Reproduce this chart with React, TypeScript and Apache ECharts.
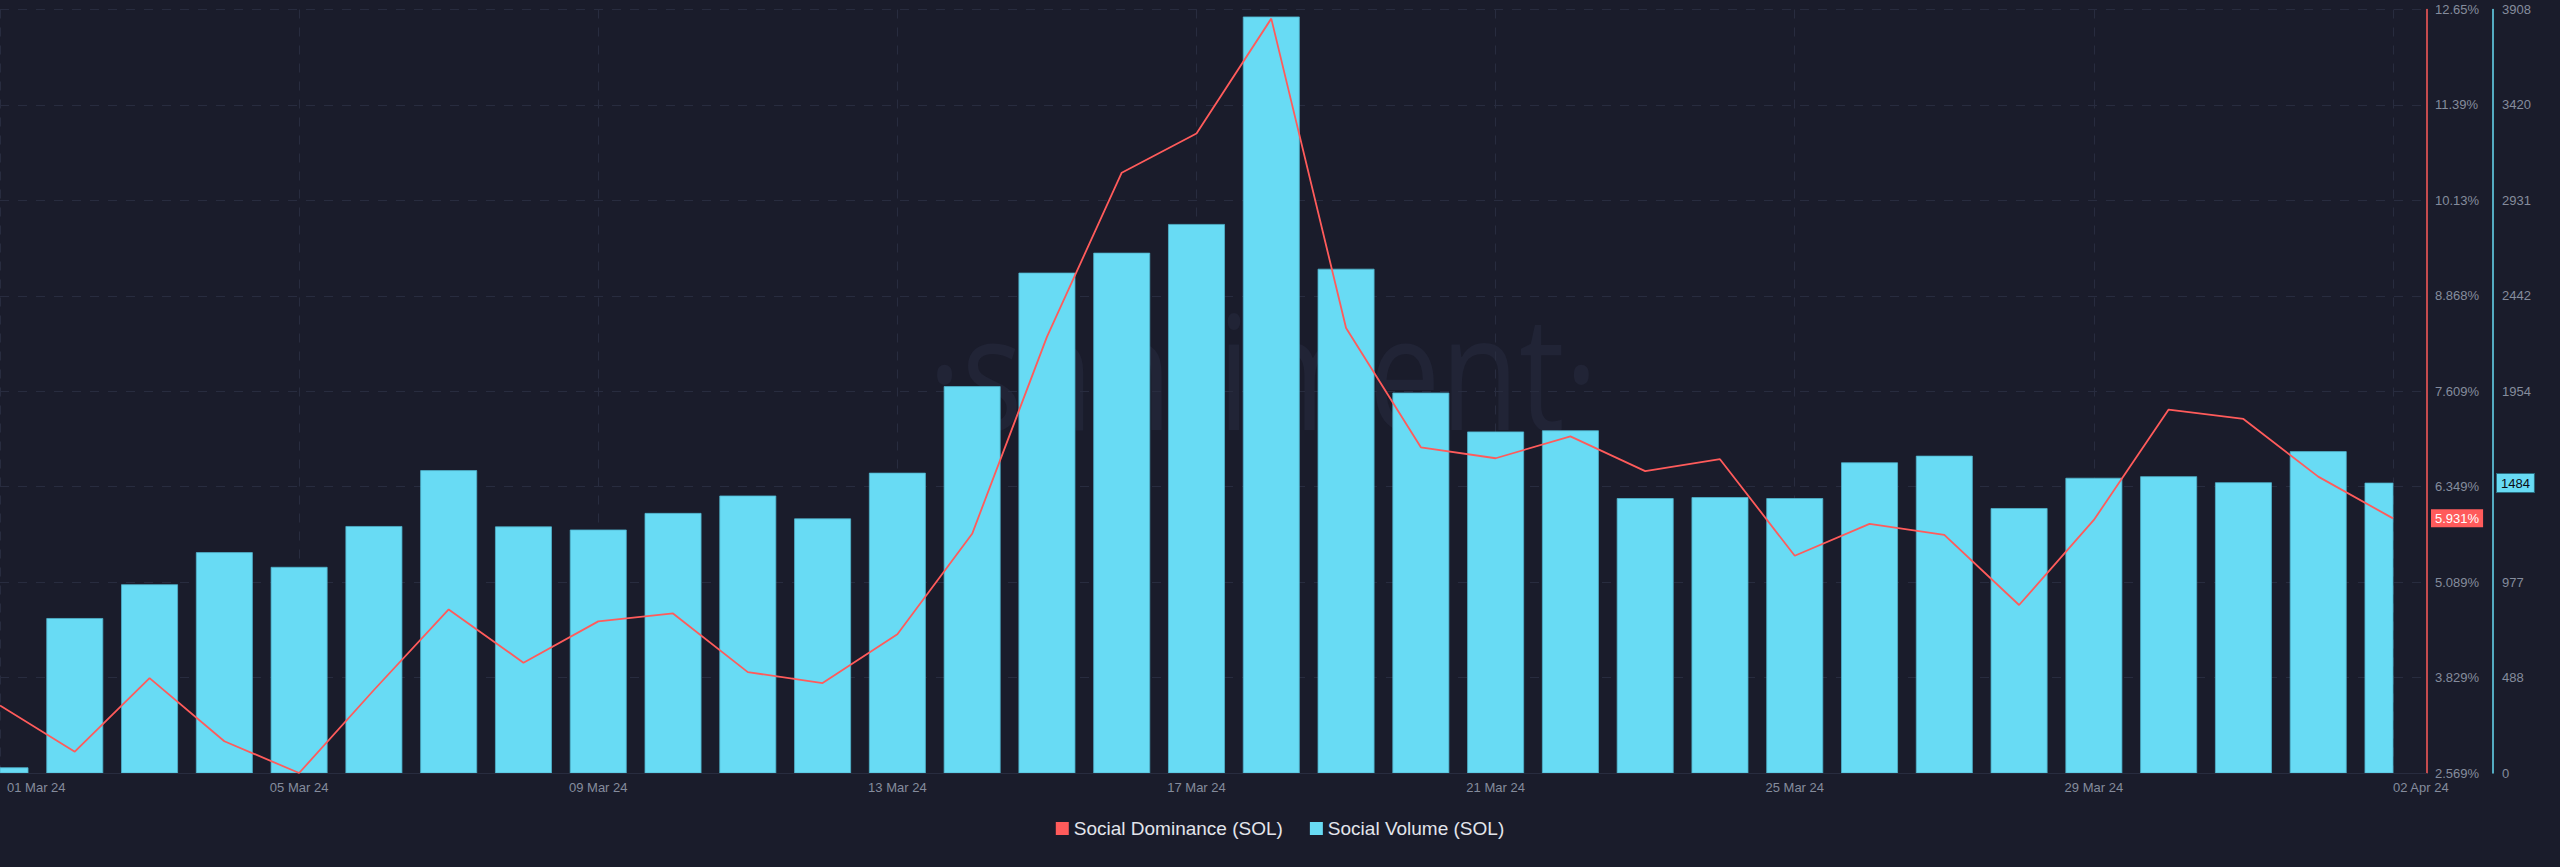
import React, { useEffect, useRef } from 'react';
import * as echarts from 'echarts';

const dates = [
  '01 Mar 24', '02 Mar 24', '03 Mar 24', '04 Mar 24', '05 Mar 24', '06 Mar 24', '07 Mar 24', '08 Mar 24',
  '09 Mar 24', '10 Mar 24', '11 Mar 24', '12 Mar 24', '13 Mar 24', '14 Mar 24', '15 Mar 24', '16 Mar 24',
  '17 Mar 24', '18 Mar 24', '19 Mar 24', '20 Mar 24', '21 Mar 24', '22 Mar 24', '23 Mar 24', '24 Mar 24',
  '25 Mar 24', '26 Mar 24', '27 Mar 24', '28 Mar 24', '29 Mar 24', '30 Mar 24', '31 Mar 24', '01 Apr 24',
  '02 Apr 24',
];

const socialVolume = [
  27, 791, 964, 1128, 1053, 1262, 1548, 1260,
  1244, 1329, 1418, 1301, 1535, 1978, 2559, 2661,
  2808, 3870, 2579, 1945, 1746, 1752, 1405, 1410,
  1405, 1588, 1622, 1354, 1509, 1517, 1486, 1645,
  1484,
];

const socialDominance = [
  3.46, 2.851, 3.822, 2.988, 2.569, 3.665, 4.728, 4.025,
  4.571, 4.676, 3.901, 3.756, 4.4, 5.727, 8.327, 10.495,
  11.013, 12.53, 8.445, 6.869, 6.725, 7.014, 6.554, 6.712,
  5.438, 5.858, 5.714, 4.787, 5.91, 7.368, 7.244, 6.482,
  5.931,
];

const dominanceTickLabels = ['2.569%', '3.829%', '5.089%', '6.349%', '7.609%', '8.868%', '10.13%', '11.39%', '12.65%'];
const volumeTickLabels = ['0', '488', '977', '1465', '1954', '2442', '2931', '3420', '3908'];
const xLabelEvery = 4;

const DOMINANCE_MIN = 2.569;
const DOMINANCE_MAX = 12.65;
const VOLUME_MIN = 0;
const VOLUME_MAX = 3908;

const BG = '#1a1c2b';
const RED = '#ff5b5b';
const CYAN = '#68dbf4';
const LABEL = '#858c9d';
const GRID = '#282c3f';
const FONT = 'Arial, "Liberation Sans", sans-serif';

export default function App() {
  const ref = useRef<HTMLDivElement>(null);

  useEffect(() => {
    const el = ref.current!;
    const chart = echarts.init(el, null, { renderer: 'svg' });

    const lastIdx = dates.length - 1;
    const lastDom = socialDominance[lastIdx];
    const lastVol = socialVolume[lastIdx];

    const domStep = (DOMINANCE_MAX - DOMINANCE_MIN) / (dominanceTickLabels.length - 1);
    const domTicks = dominanceTickLabels.map((_, k) => DOMINANCE_MIN + k * domStep);
    const volStep = (VOLUME_MAX - VOLUME_MIN) / (volumeTickLabels.length - 1);
    const volTicks = volumeTickLabels.map((_, k) => VOLUME_MIN + k * volStep);
    const volLabelValues = volTicks.filter((v) => Math.abs(v - lastVol) > volStep * 0.3);

    const xTicks: number[] = [];
    for (let i = 0; i <= lastIdx; i += xLabelEvery) xTicks.push(i);

    const gridLeft = 0;
    const gridRightPx = 2427;
    const xMax = (lastIdx * gridRightPx) / 2393;

    const option: any = {
      animation: false,
      backgroundColor: BG,
      textStyle: { fontFamily: FONT },
      grid: {
        left: gridLeft,
        right: 2560 - gridRightPx,
        top: 9.5,
        bottom: 94,
        containLabel: false,
        outerBoundsMode: 'none',
      },
      graphic: [
        {
          type: 'text',
          x: 1263,
          y: 368,
          scaleX: 0.8,
          z: 0,
          silent: true,
          style: {
            text: '·santiment·',
            font: '400 160px "Open Sans", sans-serif',
            fill: '#212436',
            align: 'center',
            verticalAlign: 'middle',
          },
        },
      ],
      legend: {
        bottom: 24,
        left: 'center',
        icon: 'rect',
        itemWidth: 13,
        itemHeight: 13,
        itemGap: 27,
        selectedMode: false,
        textStyle: { color: '#e3e5ec', fontSize: 19, fontFamily: FONT },
        data: ['Social Dominance (SOL)', 'Social Volume (SOL)'],
      },
      xAxis: {
        type: 'value',
        min: 0,
        max: xMax,
        axisLine: { show: true, onZero: false, lineStyle: { color: GRID, width: 1 } },
        axisTick: { show: false, customValues: xTicks },
        splitLine: { show: true, lineStyle: { color: GRID, type: [9, 9], width: 1 } },
        axisLabel: {
          customValues: xTicks,
          color: LABEL,
          fontSize: 13,
          fontFamily: FONT,
          margin: 8,
          alignMinLabel: 'left',
          alignMaxLabel: 'left',
          formatter: (v: number) => {
            const i = Math.round(v);
            if (i === 0) return '{f|' + dates[i] + '}';
            return dates[i] ?? '';
          },
          rich: {
            f: { padding: [0, 0, 0, 7], color: LABEL, fontSize: 13, fontFamily: FONT },
          },
        },
      },
      yAxis: [
        {
          type: 'value',
          position: 'right',
          offset: 0,
          min: DOMINANCE_MIN,
          max: DOMINANCE_MAX,
          axisLine: { show: true, onZero: false, lineStyle: { color: RED, width: 1.5 } },
          axisTick: { show: false, customValues: domTicks },
          splitLine: { show: false },
          axisLabel: {
            customValues: [...domTicks, lastDom],
            margin: 4,
            color: LABEL,
            fontSize: 13,
            fontFamily: FONT,
            formatter: (v: number) => {
              if (Math.abs(v - lastDom) < 1e-9) return '{tag|' + lastDom.toFixed(3) + '%}';
              const k = Math.round((v - DOMINANCE_MIN) / domStep);
              return '{n|' + (dominanceTickLabels[k] ?? '') + '}';
            },
            rich: {
              n: { padding: [0, 0, 0, 4], color: LABEL, fontSize: 13, fontFamily: FONT },
              tag: {
                backgroundColor: RED,
                color: '#ffffff',
                fontSize: 13,
                fontFamily: FONT,
                padding: [3, 4, 2, 4],
              },
            },
          },
        },
        {
          type: 'value',
          position: 'right',
          offset: 66,
          min: VOLUME_MIN,
          max: VOLUME_MAX,
          axisLine: { show: true, onZero: false, lineStyle: { color: CYAN, width: 1.5 } },
          axisTick: { show: false, customValues: volTicks },
          splitLine: { show: true, lineStyle: { color: GRID, type: [9, 9], width: 1 } },
          axisLabel: {
            customValues: [...volLabelValues, lastVol],
            margin: 4,
            color: LABEL,
            fontSize: 13,
            fontFamily: FONT,
            formatter: (v: number) => {
              if (Math.abs(v - lastVol) < 1e-9) return '{tag|' + String(lastVol) + '}';
              const k = Math.round((v - VOLUME_MIN) / volStep);
              return '{n|' + (volumeTickLabels[k] ?? '') + '}';
            },
            rich: {
              n: { padding: [0, 0, 0, 5], color: LABEL, fontSize: 13, fontFamily: FONT },
              tag: {
                backgroundColor: CYAN,
                color: '#0b0c14',
                borderColor: '#2a6d80',
                borderWidth: 1,
                fontSize: 13,
                fontFamily: FONT,
                padding: [3, 4, 2, 4],
              },
            },
          },
        },
      ],
      series: [
        {
          name: 'Social Dominance (SOL)',
          type: 'line',
          yAxisIndex: 0,
          z: 5,
          color: RED,
          showSymbol: false,
          symbol: 'none',
          lineStyle: { color: RED, width: 1.8 },
          itemStyle: { color: RED },
          data: socialDominance.map((v, i) => [i, v]),
        },
        {
          name: 'Social Volume (SOL)',
          type: 'custom',
          yAxisIndex: 1,
          z: 3,
          clip: true,
          itemStyle: { color: CYAN },
          encode: { x: 0, y: 1 },
          data: socialVolume.map((v, i) => [i, v]),
          renderItem: (params: any, api: any) => {
            const x = api.value(0);
            const v = api.value(1);
            const top = api.coord([x, v]);
            const base = api.coord([x, 0]);
            const w = api.size([1, 0])[0] * 0.75;
            const cs = params.coordSys;
            const xEnd = api.coord([lastIdx, 0])[0];
            const x0 = Math.max(top[0] - w / 2, cs.x);
            const x1 = Math.min(top[0] + w / 2, xEnd);
            return {
              type: 'rect',
              shape: { x: x0, y: top[1], width: Math.max(0, x1 - x0), height: base[1] - top[1] },
              style: { fill: CYAN, stroke: '#4fb3cc', lineWidth: 0.8 },
            };
          },
        },
      ],
    };

    chart.setOption(option);
    return () => chart.dispose();
  }, []);

  return (
    <div
      ref={ref}
      style={{ position: 'fixed', left: 0, top: 0, width: 2560, height: 867, background: BG }}
    />
  );
}
